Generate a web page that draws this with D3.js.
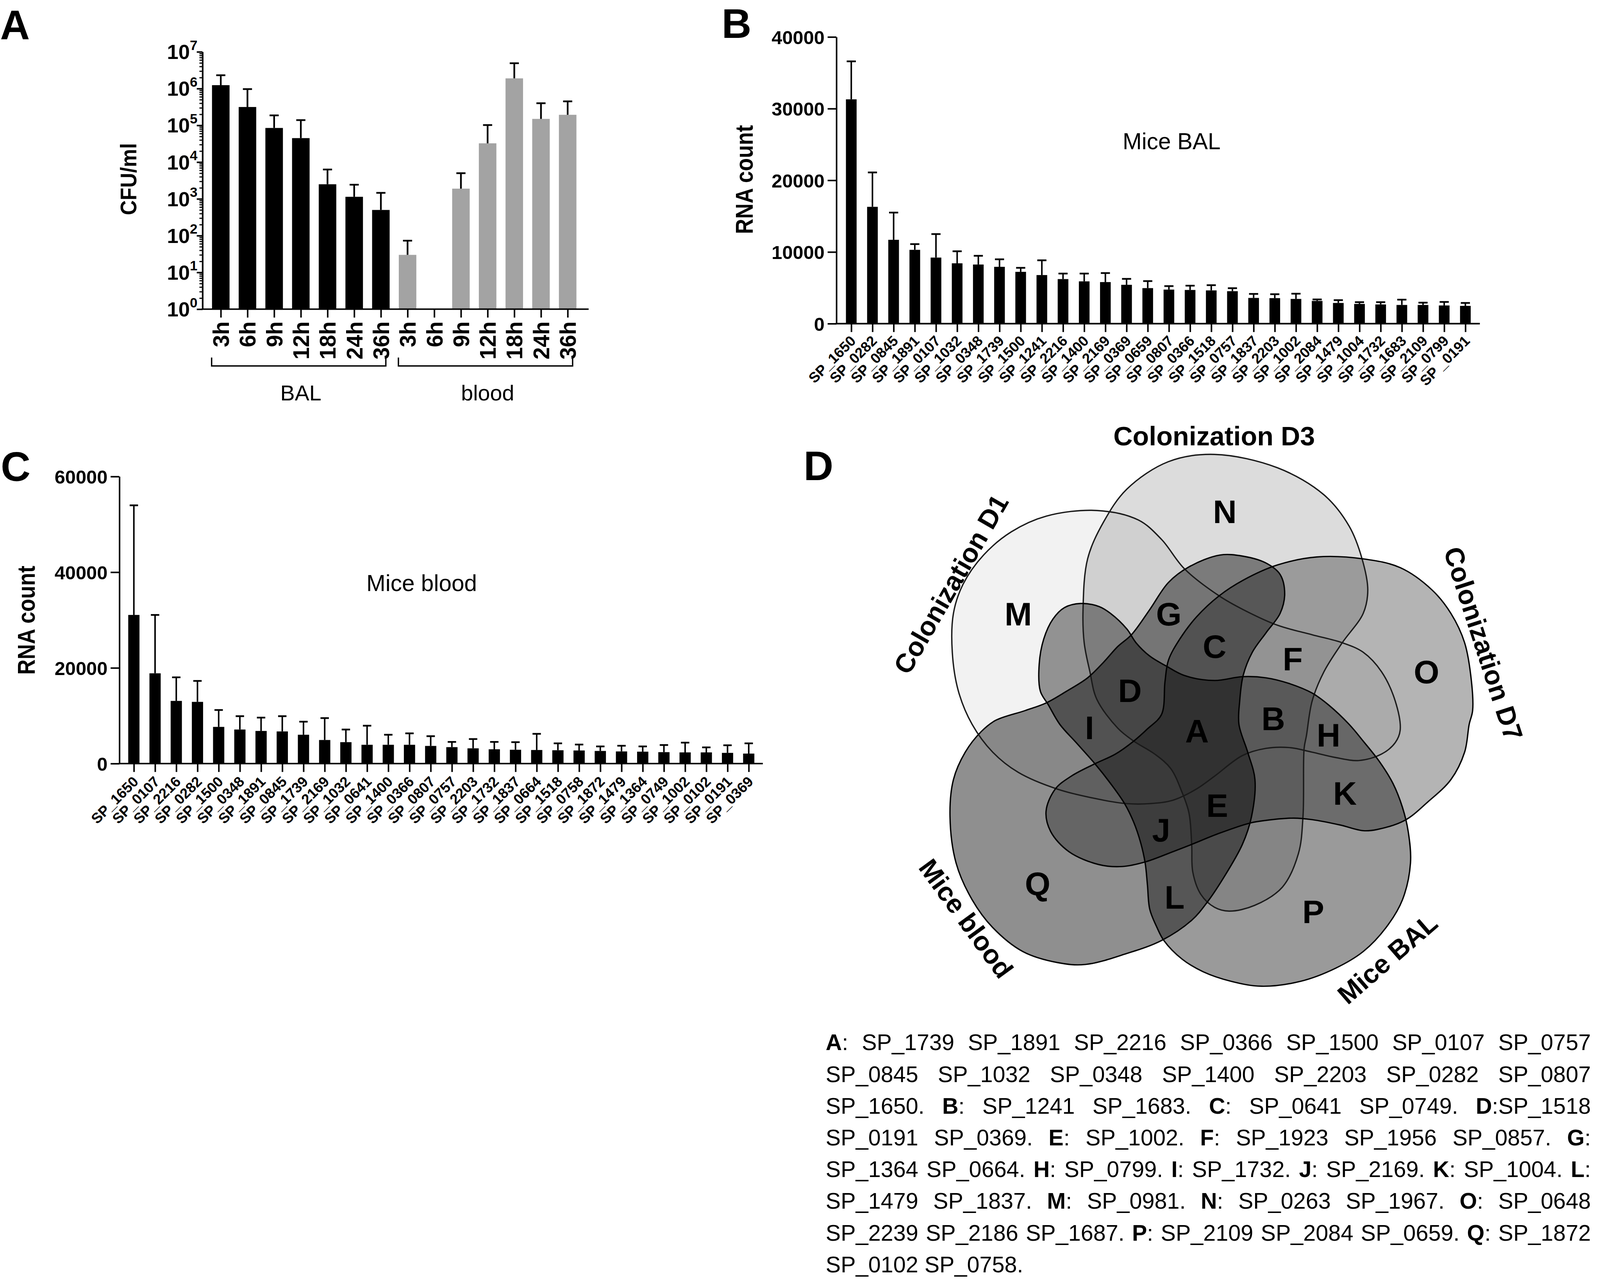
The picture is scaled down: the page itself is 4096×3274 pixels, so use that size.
<!DOCTYPE html>
<html>
<head>
<meta charset="utf-8">
<script src="https://cdn.jsdelivr.net/npm/d3@7/dist/d3.min.js"></script>
<style>
html,body{margin:0;padding:0;background:#fff;}
svg{display:block;}
</style>
</head>
<body>
<svg id="fig" width="4096" height="3274" viewBox="0 0 4197 3355"></svg>
<script>
// ================= DATA =================
// Panel A : CFU/ml (log scale)
const cfuTimes = ["3h","6h","9h","12h","18h","24h","36h","3h","6h","9h","12h","18h","24h","36h"];
const cfuSite  = ["BAL","BAL","BAL","BAL","BAL","BAL","BAL","blood","blood","blood","blood","blood","blood","blood"];
const cfuMean  = [1.24e6, 3.16e5, 8.5e4, 4.5e4, 2.5e3, 1.14e3, 500, 30, null, 1.9e3, 3.25e4, 1.9e6, 1.5e5, 1.94e5];
const cfuUpper = [2.31e6, 9.7e5, 1.87e5, 1.39e5, 6.3e3, 2.43e3, 1.46e3, 73, null, 5.0e3, 1.02e5, 4.9e6, 4.0e5, 4.5e5];
const cfuExponents = [0,1,2,3,4,5,6,7];
const siteNames = ["BAL","blood"];

// Panel B : Mice BAL RNA count
const balGenes = ["SP_1650","SP_0282","SP_0845","SP_1891","SP_0107","SP_1032","SP_0348","SP_1739","SP_1500","SP_1241",
  "SP_2216","SP_1400","SP_2169","SP_0369","SP_0659","SP_0807","SP_0366","SP_1518","SP_0757","SP_1837",
  "SP_2203","SP_1002","SP_2084","SP_1479","SP_1004","SP_1732","SP_1683","SP_2109","SP_0799","SP _0191"];
const balMean  = [31300,16300,11700,10300,9220,8420,8250,7930,7230,6780,6220,5900,5800,5420,4960,4750,4700,4640,4530,3590,3560,3450,3170,2890,2750,2680,2610,2610,2540,2480];
const balUpper = [36600,21100,15500,11100,12500,10100,9470,8980,7790,8840,6990,6990,7060,6250,5940,5240,5300,5370,4950,4150,4110,4180,3380,3280,3000,3000,3350,2930,3030,2890];
const balTicks = [0,10000,20000,30000,40000];

// Panel C : Mice blood RNA count
const bloodGenes = ["SP_1650","SP_0107","SP_2216","SP_0282","SP_1500","SP_0348","SP_1891","SP_0845","SP_1739","SP_2169",
  "SP_1032","SP_0641","SP_1400","SP_0366","SP_0807","SP_0757","SP_2203","SP_1732","SP_1837","SP_0664",
  "SP_1518","SP_0758","SP_1872","SP_1479","SP_1364","SP_0749","SP_1002","SP_0102","SP_0191","SP_0369"];
const bloodMean  = [31070,18870,13100,12900,7670,7120,6820,6720,6030,4930,4480,3930,3930,3930,3690,3440,3190,2990,2890,2840,2790,2740,2640,2540,2490,2390,2340,2340,2240,2090];
const bloodUpper = [53980,31070,18030,17280,11200,9910,9610,9910,8760,9510,7120,7920,6030,6320,5730,4530,5130,4530,4480,6220,4230,3980,3590,3730,3590,3880,4380,3390,3830,4230];
const bloodTicks = [0,20000,40000,60000];

// Panel D : Venn sets, region letters, legend text
const vennSets = ["Colonization D1","Colonization D3","Colonization D7","Mice blood","Mice BAL"];
const vennRegions = ["A","B","C","D","E","F","G","H","I","J","K","L","M","N","O","P","Q"];
const legendLines = [
  ["A:","SP_1739","SP_1891","SP_2216","SP_0366","SP_1500","SP_0107","SP_0757"],
  ["SP_0845","SP_1032","SP_0348","SP_1400","SP_2203","SP_0282","SP_0807"],
  ["SP_1650.","B:","SP_1241","SP_1683.","C:","SP_0641","SP_0749.","D:SP_1518"],
  ["SP_0191","SP_0369.","E:","SP_1002.","F:","SP_1923","SP_1956","SP_0857.","G:"],
  ["SP_1364","SP_0664.","H:","SP_0799.","I:","SP_1732.","J:","SP_2169.","K:","SP_1004.","L:"],
  ["SP_1479","SP_1837.","M:","SP_0981.","N:","SP_0263","SP_1967.","O:","SP_0648"],
  ["SP_2239","SP_2186","SP_1687.","P:","SP_2109","SP_2084","SP_0659.","Q:","SP_1872"],
  ["SP_0102","SP_0758."]
];

// ================= LAYOUT =================
const FONT = "'Liberation Sans', Arial, Helvetica, sans-serif";
const svg = d3.select("#fig");
svg.append("rect").attr("width",4197).attr("height",3355).attr("fill","#fff");

function styleAxis(g, fs, weight) {
  g.attr("font-family", FONT).attr("font-size", fs).attr("font-weight", weight || "bold");
  g.selectAll("path.domain").attr("stroke","#000").attr("stroke-width",4);
  g.selectAll(".tick line").attr("stroke","#000").attr("stroke-width",4);
  g.selectAll(".tick text").attr("fill","#000");
}

// Panel letters
const panelLetters = ["A","B","C","D"];
const panelLetterPos = [[0,103],[1893,99],[2,1261],[2108,1259]];
svg.selectAll("text.plabel").data(panelLetters).join("text")
  .attr("class","plabel")
  .attr("x",(d,i)=>panelLetterPos[i][0]).attr("y",(d,i)=>panelLetterPos[i][1])
  .attr("font-family",FONT).attr("font-weight","bold").attr("font-size",108)
  .text(d=>d);

// ---------------- Panel A ----------------
(function(){
  const L = {x0:531, x1:1544, yTop:136, yBot:811, barW:46, cap:24};
  const xA = d3.scalePoint().domain(d3.range(cfuTimes.length)).range([579,1489]);
  const yA = d3.scaleLog().domain([1,1e7]).range([L.yBot, L.yTop]);
  const g = svg.append("g");
  const rows = cfuMean.map((v,i)=>({v, u:cfuUpper[i], i, site:cfuSite[i]})).filter(d=>d.v!=null);

  g.selectAll("rect.bar").data(rows).join("rect")
    .attr("x",d=>xA(d.i)-L.barW/2).attr("width",L.barW)
    .attr("y",d=>yA(d.v)).attr("height",d=>L.yBot-yA(d.v))
    .attr("fill",d=>d.site==="BAL"?"#000":"#a3a3a3");
  g.selectAll("line.err").data(rows).join("line")
    .attr("x1",d=>xA(d.i)).attr("x2",d=>xA(d.i))
    .attr("y1",d=>yA(d.v)).attr("y2",d=>yA(d.u))
    .attr("stroke","#000").attr("stroke-width",4.5);
  g.selectAll("line.cap").data(rows).join("line")
    .attr("x1",d=>xA(d.i)-L.cap/2).attr("x2",d=>xA(d.i)+L.cap/2)
    .attr("y1",d=>yA(d.u)).attr("y2",d=>yA(d.u))
    .attr("stroke","#000").attr("stroke-width",4.5);

  // y axis: minor + major ticks
  const majors = cfuExponents.map(e=>Math.pow(10,e));
  const minors = [];
  cfuExponents.slice(0,-1).forEach(e=>{ for(let m=2;m<=9;m++) minors.push(m*Math.pow(10,e)); });
  const gMin = g.append("g").attr("transform",`translate(${L.x0},0)`)
    .call(d3.axisLeft(yA).tickValues(minors).tickSize(8).tickSizeOuter(0).tickFormat(()=>""));
  styleAxis(gMin, 40); gMin.selectAll(".tick line").attr("stroke-width",3);
  const gMaj = g.append("g").attr("transform",`translate(${L.x0},0)`)
    .call(d3.axisLeft(yA).tickValues(majors).tickSize(15).tickSizeOuter(0).tickFormat(()=>""));
  styleAxis(gMaj, 40);
  const lab = g.selectAll("text.ylab").data(cfuExponents).join("text")
    .attr("x",518).attr("y",e=>yA(Math.pow(10,e))+19)
    .attr("text-anchor","end").attr("font-family",FONT).attr("font-weight","bold").attr("font-size",54);
  lab.append("tspan").text("10");
  lab.append("tspan").attr("font-size",36).attr("dy",-24).text(e=>e);

  // x axis
  const gx = g.append("g").attr("transform",`translate(0,${L.yBot})`)
    .call(d3.axisBottom(xA).tickSize(22).tickSizeOuter(0).tickFormat(i=>cfuTimes[i]));
  gx.select(".domain").remove();
  styleAxis(gx, 58);
  gx.selectAll(".tick text").attr("y",0).attr("x",0).attr("dy","0.36em")
    .attr("text-anchor","end").attr("transform","translate(0,32) rotate(-90)");
  g.append("line").attr("x1",L.x0-2).attr("x2",L.x1).attr("y1",L.yBot).attr("y2",L.yBot)
    .attr("stroke","#000").attr("stroke-width",4);

  // group brackets
  const groups = siteNames.map(s=>{
    const idx = cfuSite.map((v,i)=>v===s?i:-1).filter(i=>i>=0);
    return {site:s, a:xA(d3.min(idx)), b:xA(d3.max(idx))};
  });
  g.selectAll("path.br").data(groups).join("path")
    .attr("d",d=>`M${d.a-24},938V960H${d.b+13}V938`)
    .attr("fill","none").attr("stroke","#000").attr("stroke-width",3.5);
  g.selectAll("text.grp").data(groups).join("text")
    .attr("x",d=>(d.a+d.b)/2).attr("y",1050).attr("text-anchor","middle")
    .attr("font-family",FONT).attr("font-size",57).text(d=>d.site);

  // y title
  g.append("text").attr("transform","translate(357,470) rotate(-90)")
    .attr("text-anchor","middle").attr("font-family",FONT).attr("font-weight","bold")
    .attr("font-size",58).attr("textLength",189).attr("lengthAdjust","spacingAndGlyphs").text("CFU/ml");
})();

// ---------------- Panels B and C ----------------
function rnaPanel(c){
  const g = svg.append("g");
  const x = d3.scalePoint().domain(d3.range(c.genes.length)).range(c.xRange);
  const y = d3.scaleLinear().domain([0, d3.max(c.ticks)]).range(c.yRange);
  const rows = c.mean.map((v,i)=>({v, u:c.upper[i], i}));
  g.selectAll("rect").data(rows).join("rect")
    .attr("x",d=>x(d.i)-c.barW/2).attr("width",c.barW)
    .attr("y",d=>y(d.v)).attr("height",d=>y(0)-y(d.v)).attr("fill","#000");
  g.selectAll("line.err").data(rows).join("line")
    .attr("x1",d=>x(d.i)).attr("x2",d=>x(d.i)).attr("y1",d=>y(d.v)).attr("y2",d=>y(d.u))
    .attr("stroke","#000").attr("stroke-width",4);
  g.selectAll("line.cap").data(rows).join("line")
    .attr("x1",d=>x(d.i)-c.cap/2).attr("x2",d=>x(d.i)+c.cap/2).attr("y1",d=>y(d.u)).attr("y2",d=>y(d.u))
    .attr("stroke","#000").attr("stroke-width",4.5);
  const gy = g.append("g").attr("transform",`translate(${c.axisX},0)`)
    .call(d3.axisLeft(y).tickValues(c.ticks).tickSize(23).tickSizeOuter(0).tickPadding(8).tickFormat(d3.format("d")));
  styleAxis(gy, 50);
  gy.selectAll(".tick text").attr("dy","0.36em");
  const gx = g.append("g").attr("transform",`translate(0,${y(0)})`)
    .call(d3.axisBottom(x).tickSize(22).tickSizeOuter(0).tickFormat(i=>c.genes[i]));
  gx.select(".domain").remove();
  styleAxis(gx, 38);
  gx.selectAll(".tick text").attr("x",0).attr("y",0).attr("dy","0.36em").attr("text-anchor","end")
    .attr("transform",`translate(4,${c.labOff}) rotate(-45)`);
  g.append("line").attr("x1",c.axisX-2).attr("x2",c.axisEnd).attr("y1",y(0)).attr("y2",y(0))
    .attr("stroke","#000").attr("stroke-width",4);
  g.append("text").attr("transform",`translate(${c.titleX},${c.titleY}) rotate(-90)`)
    .attr("text-anchor","middle").attr("font-family",FONT).attr("font-weight","bold")
    .attr("font-size",64).attr("textLength",286).attr("lengthAdjust","spacingAndGlyphs").text("RNA count");
  g.append("text").attr("x",c.noteX).attr("y",c.noteY).attr("font-family",FONT)
    .attr("font-size",60).text(c.note);
}
rnaPanel({genes:balGenes, mean:balMean, upper:balUpper, ticks:balTicks,
  xRange:[2233,3844], yRange:[849,97], axisX:2194, axisEnd:3882, barW:28, cap:24, labOff:38,
  titleX:1975, titleY:471, note:"Mice BAL", noteX:2945, noteY:391});
rnaPanel({genes:bloodGenes, mean:bloodMean, upper:bloodUpper, ticks:bloodTicks,
  xRange:[351,1964], yRange:[2003,1250], axisX:313, axisEnd:2001, barW:29.5, cap:22, labOff:40,
  titleX:91, titleY:1627, note:"Mice blood", noteX:961, noteY:1550});

// ---------------- Panel D : Venn ----------------
(function(){
  const center = [3140,1917];
  const vx = d3.scaleLinear().domain([0,1]).range([center[0], center[0]+1]);
  const vy = d3.scaleLinear().domain([0,1]).range([center[1], center[1]+1]);
  const outlines = {
    "Colonization D1":[[-639,-308],[-614,-384],[-560,-461],[-487,-522],[-396,-563],[-263,-578],[-154,-553],[-93,-502],[-33,-425],[58,-354],[121,-318],[211,-277],[302,-252],[381,-231],[436,-206],[484,-155],[520,-78],[533,-2],[520,31],[484,61],[424,78],[363,70],[302,56],[242,44],[181,46],[119,65],[46,119],[-2,153],[-63,182],[-124,191],[-184,191],[-245,182],[-366,153],[-469,109],[-536,56],[-590,-17],[-626,-104],[-642,-206]],
    "Colonization D3":[[-299,-318],[-287,-451],[-245,-548],[-184,-634],[-75,-706],[46,-725],[211,-690],[333,-619],[399,-537],[433,-451],[448,-369],[436,-308],[381,-231],[333,-155],[302,-78],[287,13],[281,46],[278,225],[266,322],[224,410],[151,458],[84,473],[46,463],[10,429],[-11,371],[-14,298],[-21,216],[-39,162],[-69,99],[-111,61],[-166,27],[-208,-7],[-263,-83],[-281,-155],[-296,-231]],
    "Colonization D7":[[-396,211],[-384,264],[-336,317],[-257,351],[-196,356],[-136,344],[-63,317],[-14,298],[58,269],[139,242],[181,235],[254,229],[302,233],[375,247],[436,262],[472,259],[545,235],[605,187],[666,128],[702,56],[714,-17],[723,-53],[720,-129],[702,-231],[666,-308],[617,-369],[533,-428],[436,-451],[314,-456],[211,-435],[121,-395],[58,-354],[-2,-298],[-45,-241],[-75,-185],[-84,-129],[-93,-43],[-130,-5],[-166,27],[-214,61],[-269,87],[-330,119],[-372,153]],
    "Mice blood":[[-566,2],[-608,56],[-639,128],[-648,225],[-632,347],[-590,443],[-536,516],[-457,579],[-366,608],[-293,613],[-184,584],[-93,550],[-14,497],[28,448],[70,385],[119,298],[143,225],[152,128],[133,56],[110,-17],[112,-78],[121,-145],[145,-206],[181,-257],[218,-308],[230,-359],[218,-410],[181,-440],[121,-458],[60,-461],[-21,-430],[-75,-389],[-124,-318],[-172,-252],[-208,-221],[-245,-180],[-287,-139],[-342,-104],[-396,-73],[-451,-53],[-529,-27]],
    "Mice BAL":[[-305,-334],[-257,-326],[-227,-308],[-184,-267],[-160,-231],[-124,-196],[-81,-170],[-33,-145],[46,-132],[119,-142],[181,-139],[242,-124],[302,-99],[345,-68],[399,-17],[436,27],[478,80],[514,138],[539,201],[554,264],[560,347],[539,443],[496,516],[436,579],[363,623],[272,657],[169,670],[89,657],[16,632],[-39,599],[-87,550],[-105,516],[-124,468],[-130,405],[-136,347],[-148,293],[-166,240],[-190,191],[-227,138],[-269,85],[-317,31],[-360,-17],[-390,-68],[-411,-104],[-414,-175],[-402,-241],[-378,-293],[-348,-323]]
  };
  const style = {
    "Colonization D1":{op:0.05, stroke:"#1a1a1a"},
    "Colonization D3":{op:0.137, stroke:"#1a1a1a"},
    "Colonization D7":{op:0.294, stroke:"#000"},
    "Mice blood":{op:0.44, stroke:"#000"},
    "Mice BAL":{op:0.396, stroke:"#000"}
  };
  const labelPos = {
    "Colonization D1":[-646,-385,-60],
    "Colonization D3":[45,-774,0],
    "Colonization D7":[752,-229,72],
    "Mice blood":[-605,492,54],
    "Mice BAL":[499,597,-41]
  };
  const regionPos = {A:[0,0],B:[200,-33],C:[46,-222],D:[-176,-107],E:[53,195],F:[251,-190],G:[-74,-307],
    H:[345,10],I:[-282,-9],J:[-94,259],K:[388,163],L:[-59,436],M:[-469,-307],N:[73,-576],O:[602,-156],P:[305,473],Q:[-418,401]};

  const line = d3.line().x(d=>vx(d[0])).y(d=>vy(d[1])).curve(d3.curveCatmullRomClosed.alpha(0.5));
  const g = svg.append("g");
  g.selectAll("path.fill").data(vennSets).join("path")
    .attr("d",s=>line(outlines[s])).attr("fill","#000").attr("fill-opacity",s=>style[s].op).attr("stroke","none");
  g.selectAll("path.edge").data(vennSets).join("path")
    .attr("d",s=>line(outlines[s])).attr("fill","none").attr("stroke",s=>style[s].stroke).attr("stroke-width",3.5);
  g.selectAll("text.reg").data(vennRegions).join("text")
    .attr("x",r=>vx(regionPos[r][0])).attr("y",r=>vy(regionPos[r][1]))
    .attr("text-anchor","middle").attr("dy","0.36em")
    .attr("font-family",FONT).attr("font-weight","bold").attr("font-size",86).text(r=>r);
  g.selectAll("text.set").data(vennSets).join("text")
    .attr("transform",s=>`translate(${vx(labelPos[s][0])},${vy(labelPos[s][1])}) rotate(${labelPos[s][2]})`)
    .attr("text-anchor","middle").attr("dy","0.36em")
    .attr("font-family",FONT).attr("font-weight","bold").attr("font-size",70).text(s=>s);

  // Legend text block (justified)
  const T = {x0:2166, x1:4173, y0:2755, lh:83.2, fs:59};
  const gt = svg.append("g").attr("font-family",FONT).attr("font-size",T.fs);
  function addToken(parent, tok){
    const t = parent.append("text");
    const m = tok.match(/^([A-Q]):(.*)$/);
    if(m){ t.append("tspan").attr("font-weight","bold").text(m[1]); t.append("tspan").text(":"+m[2]); }
    else t.text(tok);
    return t;
  }
  legendLines.forEach((toks,li)=>{
    const y = T.y0 + li*T.lh;
    const nodes = toks.map(tok=>addToken(gt,tok).attr("y",y));
    const widths = nodes.map(n=>n.node().getComputedTextLength());
    const total = d3.sum(widths);
    const last = li===legendLines.length-1;
    const gap = last ? T.fs*0.278 : (T.x1-T.x0-total)/(toks.length-1);
    let x = T.x0;
    nodes.forEach((n,k)=>{ n.attr("x",x); x += widths[k]+gap; });
  });
})();
</script>
</body>
</html>
